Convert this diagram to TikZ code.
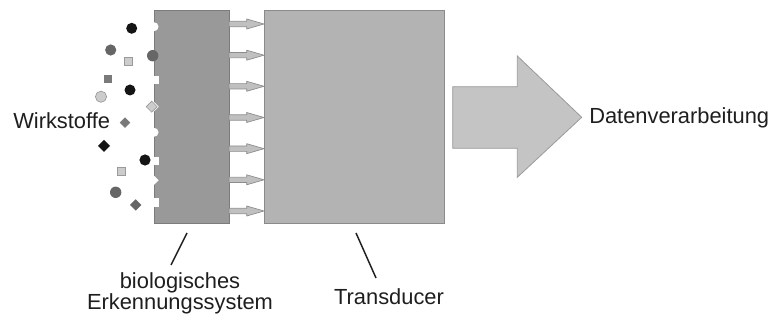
\documentclass[tikz,border=0pt]{standalone}
\usepackage{fontspec}
\setmainfont{Liberation Sans}
\definecolor{txt}{HTML}{1E1E1E}
\definecolor{biofill}{HTML}{999999}
\definecolor{bioedge}{HTML}{7C7C7C}
\definecolor{transfill}{HTML}{B3B3B3}
\definecolor{transedge}{HTML}{8A8A8A}
\definecolor{arrfill}{HTML}{C0C0C0}
\definecolor{arredge}{HTML}{8C8C8C}
\definecolor{bigfill}{HTML}{C4C4C4}
\definecolor{bigedge}{HTML}{9A9A9A}
\definecolor{molblack}{HTML}{151515}
\definecolor{moldark}{HTML}{666666}
\definecolor{molmid}{HTML}{7A7A7A}
\definecolor{mollight}{HTML}{CCCCCC}
\definecolor{molline}{HTML}{9A9A9A}
\begin{document}
\begin{tikzpicture}[x=0.75pt,y=0.75pt,
  lbl/.style={font=\fontsize{16.4}{15.8}\selectfont, text=txt, inner sep=0pt},
  biobox/.style={fill=biofill, draw=bioedge, line width=0.6pt, inner sep=0pt},
  transbox/.style={fill=transfill, draw=transedge, line width=0.6pt, inner sep=0pt},
  smallarrow/.style={fill=arrfill, draw=arredge, line width=0.5pt, line join=miter},
  bigarrow/.style={fill=bigfill, draw=bigedge, line width=0.6pt, line join=miter},
  leader/.style={draw=txt, line width=1.1pt},
  notch/.style={fill=white},
  black mol/.style={fill=molblack},
  dark mol/.style={fill=moldark},
  mid mol/.style={fill=molmid},
  light mol/.style={fill=mollight, draw=molline, line width=0.5pt}]
\useasboundingbox (0,0) rectangle (771,321);

% recognition layer and transducer
\node[biobox, minimum width=56.25pt, minimum height=159.75pt, anchor=south west] (bio) at (154,97) {};
\node[transbox, minimum width=135pt, minimum height=159.75pt, anchor=south west] (trans) at (264,97) {};

% binding sites cut into the left edge of the layer
\fill[notch] (153,298.8) -- (154,298.8) arc[start angle=90, end angle=-90, radius=4.5] -- (153,289.8) -- cycle;
\fill[notch] (153,236.7) rectangle (158.7,245);
\fill[notch] (153,219) -- (154,219) -- (158.7,214.3) -- (154,209.6) -- (153,209.6) -- cycle;
\fill[notch] (153,193.2) -- (154,193.2) arc[start angle=90, end angle=-90, radius=4.5] -- (153,184.2) -- cycle;
\fill[notch] (153,155.5) rectangle (158.7,163.5);
\fill[notch] (153,145.4) -- (154,145.4) -- (158.7,140.7) -- (154,136) -- (153,136) -- cycle;
\fill[notch] (153,114.3) rectangle (158.7,122.5);

% signal arrows from the layer into the transducer
\foreach \y in {297,265.8,234.7,203.5,172.3,141.2,110} {
  \filldraw[smallarrow] (229,\y+2.7) -- (246.7,\y+2.7) -- (246.7,\y+5) -- (264,\y)
    -- (246.7,\y-5) -- (246.7,\y-2.7) -- (229,\y-2.7) -- cycle;
}

% output arrow
\filldraw[bigarrow] (452.7,234.3) -- (517.3,234.3) -- (517.3,265) -- (581.7,203.7)
  -- (517.3,143.7) -- (517.3,172.7) -- (452.7,172.7) -- cycle;

% analyte molecules
\fill[black mol] (131.7,292.7) circle[radius=5.5];
\fill[dark mol] (110.7,271) circle[radius=5.6];
\filldraw[light mol] (124,255.7) rectangle (132,263.7);
\fill[dark mol] (152.7,265.3) circle[radius=5.7];
\fill[mid mol] (104,238) rectangle (112,246);
\fill[black mol] (130,231) circle[radius=5.5];
\filldraw[light mol] (101,224.3) circle[radius=5.6];
\filldraw[light mol] (146.2,214.3) -- (151.7,219.8) -- (157.2,214.3) -- (151.7,208.8) -- cycle;
\fill[mid mol] (119.8,198.3) -- (125,203.5) -- (130.2,198.3) -- (125,193.1) -- cycle;
\fill[black mol] (98,175) -- (104,181) -- (110,175) -- (104,169) -- cycle;
\fill[black mol] (145,161) circle[radius=5.6];
\filldraw[light mol] (117,145.3) rectangle (125,153.3);
\fill[dark mol] (115.7,128.7) circle[radius=5.7];
\fill[dark mol] (130,116) -- (135.7,121.7) -- (141.4,116) -- (135.7,110.3) -- cycle;

% labels
\node[lbl, anchor=west] (wirk) at (13,200) {Wirkstoffe};
\node[lbl, anchor=west] (daten) at (589,203.5) {Datenverarbeitung};
\node[lbl, align=center] (bioLbl) at (180,27.5) {biologisches\\Erkennungssystem};
\node[lbl] (transLbl) at (389,24) {Transducer};

% leader lines
\coordinate (bioTick) at (187,88);
\coordinate (bioFoot) at (171,56);
\coordinate (transTick) at (356,88);
\coordinate (transFoot) at (376,43);
\draw[leader] (bioTick) -- (bioFoot);
\draw[leader] (transTick) -- (transFoot);
\end{tikzpicture}
\end{document}
